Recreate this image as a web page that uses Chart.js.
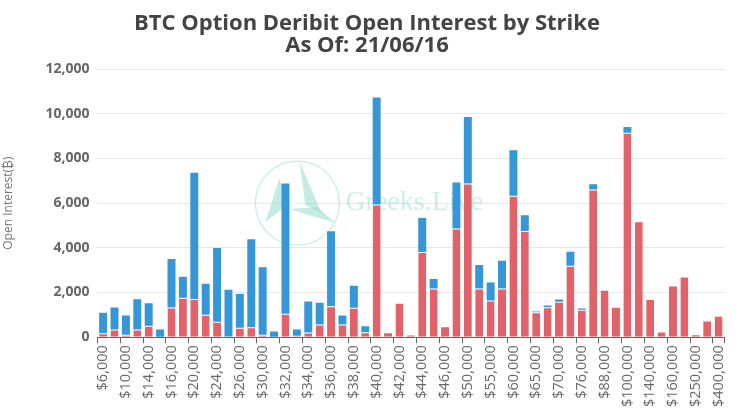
<!DOCTYPE html>
<html>
<head>
<meta charset="utf-8">
<script src="https://cdn.jsdelivr.net/npm/chart.js@4.4.0/dist/chart.umd.min.js"></script>
<style>
  html, body { margin: 0; padding: 0; background: #ffffff; }
  #wrap { width: 738px; height: 415px; }
</style>
</head>
<body>
<div id="wrap"><canvas id="oiChart"></canvas></div>
<script>
// strikes (every other one is labelled on the axis)
const strikes = [
    '$6,000', '$8,000', '$10,000', '$12,000', '$14,000', '$15,000', '$16,000', '$18,000',
    '$20,000', '$22,000', '$24,000', '$25,000', '$26,000', '$28,000', '$30,000', '$31,000',
    '$32,000', '$33,000', '$34,000', '$35,000', '$36,000', '$37,000', '$38,000', '$39,000',
    '$40,000', '$41,000', '$42,000', '$43,000', '$44,000', '$45,000', '$46,000', '$48,000',
    '$50,000', '$52,000', '$55,000', '$58,000', '$60,000', '$64,000', '$65,000', '$68,000',
    '$70,000', '$75,000', '$76,000', '$80,000', '$88,000', '$90,000', '$100,000', '$120,000',
    '$140,000', '$150,000', '$160,000', '$200,000', '$250,000', '$300,000', '$400,000'
];

// red part (bottom of stack)
const callOI = [
    180, 340, 105, 340, 510, 0, 1330, 1765,
    1705, 1000, 690, 30, 420, 450, 105, 0,
    1045, 60, 210, 570, 1390, 570, 1315, 225,
    5935, 225, 1540, 120, 3810, 2185, 495, 4860,
    6875, 2185, 1645, 2185, 6325, 4755, 1120, 1345,
    1585, 3200, 1225, 6610, 2125, 1360, 9150, 5190,
    1705, 255, 2315, 2720, 135, 750, 955
];

// blue part (top of stack)
const putOI = [
    910, 990, 865, 1360, 1015, 344, 2170, 940,
    5650, 1390, 3300, 2095, 1510, 3930, 3020, 255,
    5830, 285, 1390, 970, 3350, 400, 985, 270,
    4785, 0, 0, 0, 1525, 415, 0, 2060,
    2975, 1045, 805, 1240, 2045, 700, 30, 75,
    105, 625, 60, 235, 0, 0, 255, 0,
    0, 0, 0, 0, 0, 0, 0
];

const yTicks = [0, 2000, 4000, 6000, 8000, 10000, 12000];

const fuente = "'Open Sans', 'DejaVu Sans', sans-serif";

// watermark behind the bars
const marcaAgua = {
    id: 'marcaAgua',
    beforeDatasetsDraw(chart) {
        const { ctx, chartArea } = chart;
        const cx = chartArea.left + (chartArea.right - chartArea.left) * 0.319;
        const cy = chartArea.top + (chartArea.bottom - chartArea.top) * 0.50;
        const r = 42;
        ctx.save();
        ctx.strokeStyle = 'rgba(150, 220, 205, 0.55)';
        ctx.lineWidth = 1.2;
        ctx.beginPath();
        ctx.arc(cx, cy, r, 0, Math.PI * 2);
        ctx.stroke();
        ctx.fillStyle = 'rgba(150, 220, 205, 0.55)';
        ctx.beginPath();
        ctx.moveTo(cx + 2, cy - 42);
        ctx.lineTo(cx + 24, cy + 10);
        ctx.lineTo(cx + 8, cy + 2);
        ctx.closePath();
        ctx.fill();
        ctx.beginPath();
        ctx.moveTo(cx - 18, cy - 25);
        ctx.lineTo(cx - 32, cy + 19);
        ctx.lineTo(cx - 10, cy + 2);
        ctx.closePath();
        ctx.fill();
        ctx.beginPath();
        ctx.moveTo(cx - 8, cy + 6);
        ctx.lineTo(cx + 38, cy + 20);
        ctx.lineTo(cx + 20, cy + 4);
        ctx.closePath();
        ctx.fill();
        ctx.font = "italic 17px 'DejaVu Serif', serif";
        ctx.fillStyle = 'rgba(255, 255, 255, 0.9)';
        ctx.textAlign = 'center';
        ctx.textBaseline = 'middle';
        ctx.fillText('e', cx - 4, cy);
        ctx.font = "28px 'Liberation Serif', serif";
        ctx.fillStyle = 'rgba(160, 225, 210, 0.55)';
        ctx.textAlign = 'left';
        ctx.fillText('Greeks.Live', cx + 48, cy);
        ctx.restore();
    }
};

const ctx = document.getElementById('oiChart').getContext('2d');
new Chart(ctx, {
    type: 'bar',
    data: {
        labels: strikes,
        datasets: [
            {
                label: 'Call',
                data: callOI,
                backgroundColor: '#e2626a',
                borderColor: 'rgba(255, 255, 255, 0.5)',
                borderWidth: { top: 1, left: 0, right: 0, bottom: 0 },
                borderSkipped: false,
                categoryPercentage: 0.7,
                barPercentage: 1
            },
            {
                label: 'Put',
                data: putOI,
                backgroundColor: '#3596d8',
                borderWidth: 0,
                categoryPercentage: 0.7,
                barPercentage: 1
            }
        ]
    },
    options: {
        responsive: true,
        maintainAspectRatio: false,
        animation: false,
        layout: { padding: { left: 0, right: 4, top: 0, bottom: 6 } },
        plugins: {
            legend: { display: false },
            tooltip: { enabled: false },
            title: {
                display: true,
                text: ['BTC Option Deribit Open Interest by Strike', 'As Of: 21/06/16'],
                color: '#444444',
                font: { size: 22, weight: 'bold', family: fuente, lineHeight: 1.0 },
                padding: { top: 13, bottom: 12 }
            }
        },
        scales: {
            x: {
                stacked: true,
                grid: {
                    offset: true,
                    drawOnChartArea: false,
                    drawTicks: true,
                    tickLength: 6,
                    color: c => (c.index === undefined || c.index % 2 === 0) ? '#666666' : 'rgba(0,0,0,0)'
                },
                border: { display: true, color: '#666666', width: 1 },
                ticks: {
                    autoSkip: false,
                    maxRotation: 90,
                    minRotation: 90,
                    color: '#666666',
                    padding: 2,
                    font: { size: 14.5, family: fuente },
                    callback: function(value, index) {
                        return index % 2 === 0 ? this.getLabelForValue(value) : '';
                    }
                }
            },
            y: {
                stacked: true,
                min: 0,
                max: 12000,
                afterBuildTicks: scale => {
                    scale.ticks = yTicks.map(v => ({ value: v }));
                },
                grid: {
                    color: '#e6e6e6',
                    drawTicks: false
                },
                border: { display: false },
                ticks: {
                    color: '#666666',
                    padding: 8,
                    font: { size: 14, weight: 'bold', family: fuente },
                    callback: v => v.toLocaleString('en-US')
                },
                title: {
                    display: true,
                    text: 'Open Interest(₿)',
                    color: '#777777',
                    font: { size: 12, family: fuente },
                    padding: { top: 1, bottom: 22 }
                }
            }
        }
    },
    plugins: [marcaAgua]
});
</script>
</body>
</html>
